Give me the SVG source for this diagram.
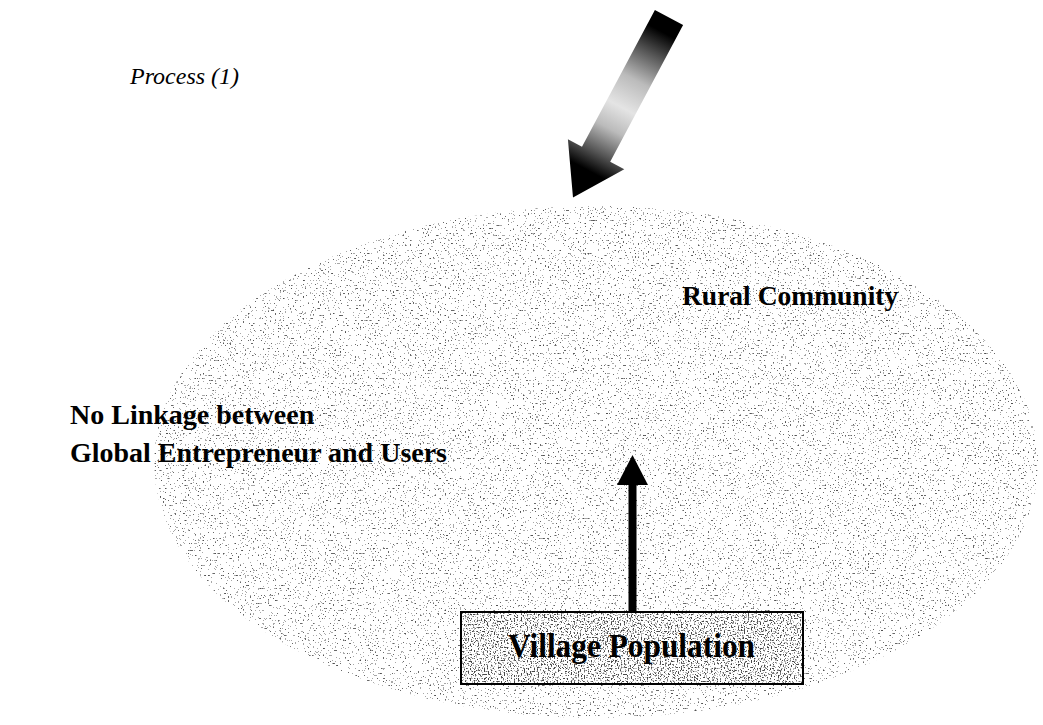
<svg xmlns="http://www.w3.org/2000/svg" width="1043" height="725" viewBox="0 0 1043 725">
  <style>
    .lbl { font-family: "Liberation Serif", "Times New Roman", serif; font-weight: bold; fill: #000; }
    .ital { font-family: "Liberation Serif", "Times New Roman", serif; font-style: italic; fill: #000; }
  </style>
  <defs>
    <filter id="spk" x="0" y="0" width="1" height="1" color-interpolation-filters="sRGB">
      <feTurbulence type="fractalNoise" baseFrequency="0.6" numOctaves="1" seed="7" result="noise"/>
      <feColorMatrix in="noise" type="matrix" values="0 0 0 0 0.15  0 0 0 0 0.15  0 0 0 0 0.15  1 0 0 0 0" result="a"/>
      <feComponentTransfer in="a" result="dots">
        <feFuncA type="discrete" tableValues="0.8 0.8 0.8 0.8 0.8 0.7 0.4 0 0 0 0 0 0 0 0 0 0 0 0 0"/>
      </feComponentTransfer>
      <feComposite in="dots" in2="SourceAlpha" operator="in"/>
    </filter>
    <filter id="spk2" x="0" y="0" width="1" height="1" color-interpolation-filters="sRGB">
      <feTurbulence type="fractalNoise" baseFrequency="0.7" numOctaves="1" seed="3" result="noise"/>
      <feColorMatrix in="noise" type="matrix" values="0 0 0 0 0.1  0 0 0 0 0.1  0 0 0 0 0.1  1 0 0 0 0" result="a"/>
      <feComponentTransfer in="a" result="dots">
        <feFuncA type="discrete" tableValues="0.8 0.8 0.8 0.8 0.8 0.8 0.8 0.6 0.3 0 0 0 0 0 0 0 0 0 0 0"/>
      </feComponentTransfer>
      <feComposite in="dots" in2="SourceAlpha" operator="in"/>
    </filter>
    <linearGradient id="bigArrowGrad" gradientUnits="userSpaceOnUse" x1="669" y1="17" x2="573" y2="197">
      <stop offset="0" stop-color="#000"/>
      <stop offset="0.08" stop-color="#000"/>
      <stop offset="0.2" stop-color="#555"/>
      <stop offset="0.35" stop-color="#bbb"/>
      <stop offset="0.5" stop-color="#e4e4e4"/>
      <stop offset="0.62" stop-color="#bbb"/>
      <stop offset="0.75" stop-color="#555"/>
      <stop offset="0.85" stop-color="#000"/>
      <stop offset="1" stop-color="#000"/>
    </linearGradient>
  </defs>

  <rect width="1043" height="725" fill="#fff"/>

  <g id="rural-community">
    <ellipse cx="596" cy="462" rx="442" ry="256" fill="#000" filter="url(#spk)"/>
    <text class="lbl" x="682" y="305" font-size="27.5">Rural Community</text>
  </g>

  <g id="label-process">
    <text class="ital" x="130" y="84" font-size="24">Process (1)</text>
  </g>

  <g id="label-no-linkage">
    <text class="lbl" x="70" y="424" font-size="28">No Linkage between</text>
    <text class="lbl" x="70" y="462" font-size="28" textLength="377" lengthAdjust="spacingAndGlyphs">Global Entrepreneur and Users</text>
  </g>

  <g id="village-population">
    <rect x="461" y="612" width="342" height="72" fill="#fff" stroke="none"/>
    <rect x="461" y="612" width="342" height="72" fill="#000" filter="url(#spk2)"/>
    <rect x="461" y="612" width="342" height="72" fill="none" stroke="#000" stroke-width="2"/>
    <text class="lbl" x="508" y="657" font-size="34" textLength="247" lengthAdjust="spacingAndGlyphs">Village Population</text>
  </g>

  <g id="connectors">
    <polygon id="arrow-in" points="654.9,10 683.1,25 610.2,161.7 624.3,169.2 573,197.4 567.9,139.2 582,146.7" fill="url(#bigArrowGrad)"/>
    <g id="arrow-up">
      <rect x="628.5" y="484" width="8" height="127" fill="#000"/>
      <polygon points="617,485 648,485 632.5,455" fill="#000"/>
    </g>
  </g>
</svg>
